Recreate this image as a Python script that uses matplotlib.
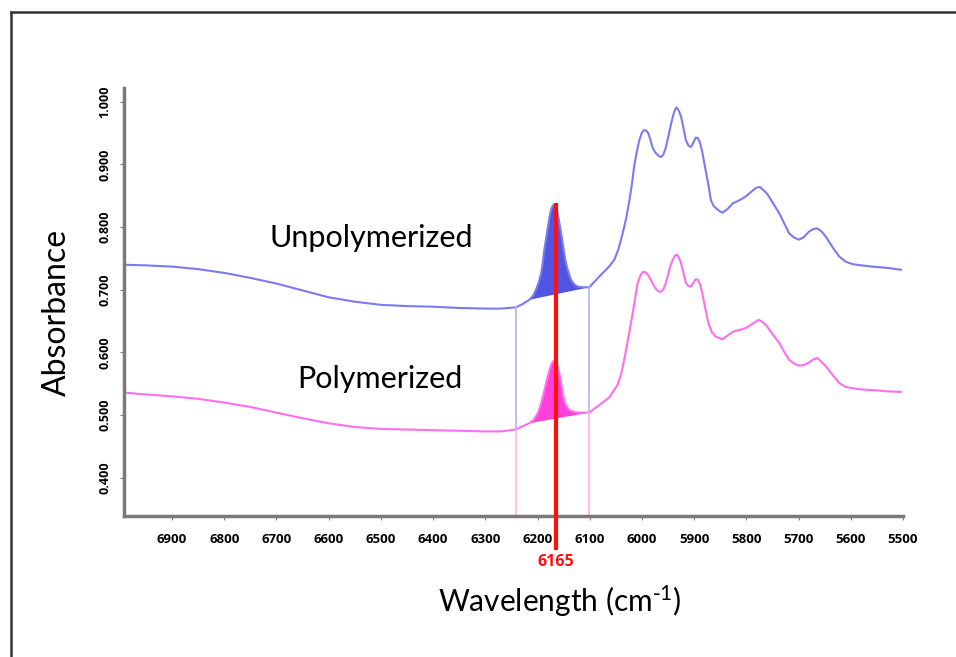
import matplotlib
matplotlib.use('Agg')
import matplotlib.pyplot as plt
from matplotlib.lines import Line2D
import numpy as np

plt.rcParams['font.family'] = ['Lato', 'DejaVu Sans']
plt.rcParams['mathtext.default'] = 'regular'

# wavenumber (cm-1) and absorbance
unpoly_wn = [6992, 6950, 6900, 6850, 6800, 6750, 6700, 6650, 6600, 6550, 6500, 6450,
             6400, 6350, 6300, 6270,
             6242, 6229, 6216, 6208, 6203, 6198, 6193, 6190, 6187, 6183, 6180, 6177,
             6174, 6171, 6169, 6166, 6163, 6160, 6157, 6153, 6150, 6147, 6144, 6140,
             6136, 6130, 6123, 6112,
             6101, 6082, 6062, 6053, 6045, 6037, 6030, 6024, 6019, 6015, 6010, 6005,
             6000, 5996, 5992, 5988, 5984, 5980, 5976, 5972, 5967, 5963, 5959, 5955,
             5951, 5946, 5941, 5937, 5934, 5930, 5925, 5920, 5916, 5911, 5906, 5901,
             5897, 5893, 5889, 5885, 5881, 5877, 5872, 5868, 5863, 5858, 5852, 5846,
             5836, 5826, 5813, 5801, 5790, 5781, 5774, 5766, 5760, 5748, 5737, 5727,
             5718, 5708, 5699, 5690, 5680, 5672, 5664, 5656, 5648, 5635, 5622, 5610,
             5597, 5580, 5559, 5530, 5504]
unpoly_abs = [0.740, 0.739, 0.737, 0.733, 0.727, 0.719, 0.710, 0.699, 0.688, 0.681, 0.676, 0.674,
              0.673, 0.671, 0.670, 0.670,
              0.672, 0.677, 0.684, 0.691, 0.700, 0.711, 0.727, 0.743, 0.764, 0.785, 0.801, 0.816,
              0.828, 0.834, 0.836, 0.833, 0.828, 0.816, 0.801, 0.781, 0.764, 0.749, 0.737, 0.726,
              0.716, 0.709, 0.705, 0.704,
              0.704, 0.721, 0.738, 0.748, 0.765, 0.790, 0.815, 0.843, 0.870, 0.897, 0.920, 0.939,
              0.951, 0.955, 0.954, 0.950, 0.940, 0.928, 0.921, 0.917, 0.913, 0.912, 0.916, 0.925,
              0.939, 0.958, 0.976, 0.987, 0.991, 0.987, 0.976, 0.956, 0.939, 0.930, 0.928, 0.936,
              0.943, 0.942, 0.935, 0.922, 0.904, 0.886, 0.864, 0.843, 0.834, 0.830, 0.826, 0.823,
              0.829, 0.838, 0.843, 0.849, 0.857, 0.863, 0.864, 0.858, 0.853, 0.837, 0.822, 0.805,
              0.790, 0.783, 0.780, 0.784, 0.793, 0.797, 0.798, 0.793, 0.785, 0.768, 0.753, 0.745,
              0.741, 0.739, 0.737, 0.735, 0.732]

poly_wn = [6992, 6950, 6900, 6850, 6800, 6750, 6700, 6650, 6600, 6550, 6500, 6450,
           6400, 6350, 6300, 6270,
           6242, 6229, 6216, 6208, 6203, 6198, 6193, 6189, 6185, 6181, 6177, 6173,
           6170, 6167, 6163, 6160, 6156, 6153, 6150, 6147, 6143, 6139, 6130, 6120,
           6101, 6082, 6063, 6047, 6040, 6034, 6027, 6020, 6014, 6009, 6004, 6000,
           5996, 5992, 5988, 5984, 5980, 5976, 5972, 5967, 5963, 5959, 5955, 5951,
           5946, 5941, 5937, 5934, 5930, 5925, 5920, 5916, 5911, 5906, 5901, 5897,
           5893, 5889, 5885, 5881, 5877, 5872, 5866, 5858, 5846, 5836, 5826, 5813,
           5801, 5788, 5777, 5768, 5760, 5748, 5737, 5727, 5718, 5708, 5699, 5690,
           5680, 5672, 5664, 5656, 5648, 5635, 5622, 5610, 5597, 5580, 5559, 5530,
           5504]
poly_abs = [0.536, 0.533, 0.530, 0.526, 0.520, 0.513, 0.504, 0.495, 0.487, 0.481, 0.478, 0.477,
            0.476, 0.475, 0.474, 0.474,
            0.477, 0.482, 0.487, 0.492, 0.498, 0.506, 0.519, 0.532, 0.546, 0.560, 0.572, 0.582,
            0.586, 0.587, 0.582, 0.573, 0.558, 0.541, 0.528, 0.519, 0.512, 0.508, 0.505, 0.504,
            0.504, 0.516, 0.528, 0.548, 0.565, 0.588, 0.620, 0.652, 0.682, 0.708, 0.721, 0.727,
            0.729, 0.727, 0.723, 0.717, 0.711, 0.705, 0.700, 0.697, 0.697, 0.701, 0.709, 0.721,
            0.737, 0.748, 0.754, 0.756, 0.753, 0.742, 0.725, 0.711, 0.706, 0.705, 0.712, 0.717,
            0.716, 0.709, 0.697, 0.680, 0.663, 0.645, 0.632, 0.625, 0.621, 0.627, 0.633, 0.636,
            0.639, 0.646, 0.652, 0.648, 0.641, 0.627, 0.615, 0.600, 0.588, 0.582, 0.579, 0.580,
            0.584, 0.589, 0.591, 0.585, 0.578, 0.564, 0.551, 0.545, 0.543, 0.541, 0.540, 0.538,
            0.537]

band_edges = [6242, 6101]
peak_start, peak_end = 6216, 6101
peak_pos = 6165

x_ticks = list(range(6900, 5400, -100))
y_ticks = [0.4, 0.5, 0.6, 0.7, 0.8, 0.9, 1.0]

blue = '#7b7bf0'
pink = '#ff6ef0'
blue_fill = '#4f55e0'
pink_fill = '#ff3fd8'
axis_gray = '#7a7a7a'

fig = plt.figure(figsize=(9.56, 6.57), dpi=100)
ax = fig.add_axes([0.1297, 0.2146, 0.8149, 0.6514])

uw, ua = np.array(unpoly_wn), np.array(unpoly_abs)
pw, pa = np.array(poly_wn), np.array(poly_abs)

ax.plot(uw, ua, color=blue, lw=1.5)
ax.plot(pw, pa, color=pink, lw=1.5)

# shaded peaks, closed by a straight chord
m = (uw <= peak_start) & (uw >= peak_end)
ax.fill(uw[m], ua[m], color=blue_fill, lw=0)
m = (pw <= peak_start) & (pw >= peak_end)
ax.fill(pw[m], pa[m], color=pink_fill, lw=0)

ymin, ymax = 0.339, 1.022
for e in band_edges:
    ub = np.interp(e, uw[::-1], ua[::-1])
    pb = np.interp(e, pw[::-1], pa[::-1])
    ax.plot([e, e], [pb, ub], color='#b0b4f4', lw=1.2)
    ax.plot([e, e], [ymin, pb], color='#ffb3f4', lw=1.2)

ax.plot([peak_pos, peak_pos], [0.288, 0.835], color='#ff1010', lw=3, clip_on=False, zorder=5)
ax.text(peak_pos, 0.266, str(peak_pos), color='#ff1010', fontsize=11.5, fontweight='bold',
        family='Open Sans', ha='center', va='center', clip_on=False)

ax.text(6518, 0.783, 'Unpolymerized', fontsize=22, ha='center', va='center')
ax.text(6501, 0.558, 'Polymerized', fontsize=22, ha='center', va='center')

ax.set_xlim(6992, 5502)
ax.set_ylim(ymin, ymax)
ax.set_xticks(x_ticks)
ax.set_xticklabels([str(t) for t in x_ticks], fontsize=9.5, fontweight='bold', family='Open Sans')
ax.set_yticks(y_ticks)
ax.set_yticklabels(['%.3f' % t for t in y_ticks], fontsize=9, fontweight='bold',
                   family='Open Sans', rotation=90, va='center')
ax.tick_params(axis='x', length=3, pad=9, color=axis_gray)
ax.tick_params(axis='y', length=3, pad=6, color=axis_gray)

for s in ['top', 'right']:
    ax.spines[s].set_visible(False)
for s in ['left', 'bottom']:
    ax.spines[s].set_color(axis_gray)
    ax.spines[s].set_linewidth(2.5)

fig.text(0.0596, 0.525, 'Absorbance', fontsize=23, rotation=90, ha='center', va='center')
fig.text(0.5858, 0.0853, r'Wavelength (cm$^{\text{-}1}$)', fontsize=21.5, ha='center', va='center')

# outer frame (only top and left edges visible)
fig.add_artist(Line2D([0.0115, 1.0], [0.9817, 0.9817], color='#333333', lw=1.8))
fig.add_artist(Line2D([0.0115, 0.0115], [0.0, 0.9817], color='#333333', lw=1.8))

fig.savefig('out.png', dpi=100)
